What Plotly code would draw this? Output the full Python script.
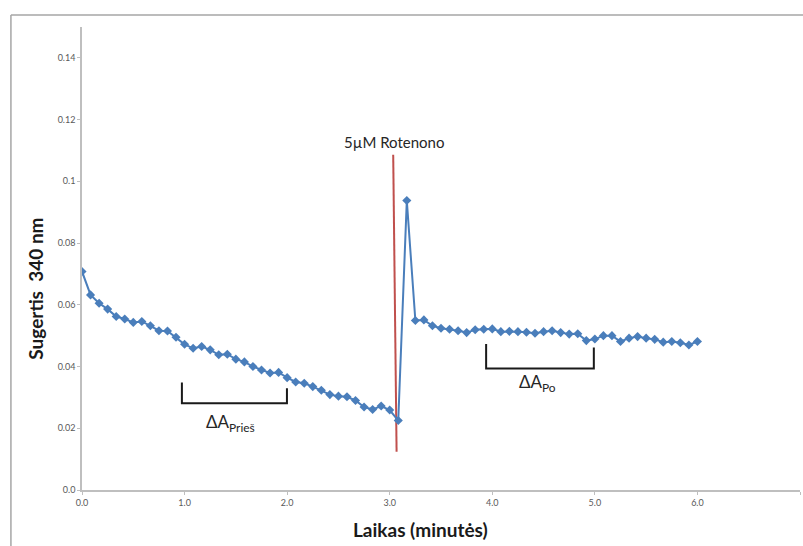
import plotly.graph_objects as go

# Sampling times (seconds) and absorbance readings at 340 nm
time_s = list(range(0, 365, 5))
absorbance = [
    0.0708, 0.0632, 0.0605, 0.0586, 0.0562, 0.0554, 0.0543, 0.0546, 0.0532, 0.0516,
    0.0515, 0.0495, 0.0472, 0.0459, 0.0465, 0.0454, 0.0438, 0.0440, 0.0424, 0.0415,
    0.0400, 0.0389, 0.0379, 0.0381, 0.0364, 0.0350, 0.0346, 0.0335, 0.0323, 0.0309,
    0.0304, 0.0302, 0.0290, 0.0269, 0.0261, 0.0272, 0.0259, 0.0225, 0.0938, 0.0549,
    0.0551, 0.0532, 0.0524, 0.0521, 0.0516, 0.0510, 0.0519, 0.0521, 0.0522, 0.0513,
    0.0514, 0.0513, 0.0511, 0.0508, 0.0513, 0.0516, 0.0510, 0.0505, 0.0506, 0.0484,
    0.0489, 0.0500, 0.0500, 0.0481, 0.0492, 0.0497, 0.0492, 0.0488, 0.0479, 0.0481,
    0.0477, 0.0470, 0.0481,
]
time_min = [t / 60 for t in time_s]

x_ticks = [0, 1, 2, 3, 4, 5, 6, 7]
x_tick_labels = ["0.0", "1.0", "2.0", "3.0", "4.0", "5.0", "6.0", "7.0"]
y_ticks = [0, 0.02, 0.04, 0.06, 0.08, 0.1, 0.12, 0.14]
y_tick_labels = ["0.0", "0.02", "0.04", "0.06", "0.08", "0.1", "0.12", "0.14"]

# Rotenone addition marker (slightly slanted hand-drawn line)
rot_x = [3.034, 3.067]
rot_y = [0.1086, 0.0124]

# Brackets marking the fitted intervals before / after rotenone
before_x = [0.974, 0.974, 1.998, 1.998]
before_y = [0.0348, 0.0281, 0.0281, 0.0330]
after_x = [3.94, 3.94, 4.99, 4.99]
after_y = [0.0473, 0.0394, 0.0394, 0.0462]

FONT = "Lato"
BLUE = "#4a7ebb"
RED = "#c0504d"
AXIS = "#bfbfbf"

fig = go.Figure()

fig.add_trace(go.Scatter(
    x=rot_x, y=rot_y, mode="lines",
    line=dict(color=RED, width=2), hoverinfo="skip", showlegend=False,
))
fig.add_trace(go.Scatter(
    x=time_min, y=absorbance, mode="lines+markers",
    line=dict(color=BLUE, width=2),
    marker=dict(symbol="diamond", size=7, color=BLUE),
    showlegend=False,
))
for bx, by in [(before_x, before_y), (after_x, after_y)]:
    fig.add_trace(go.Scatter(
        x=bx, y=by, mode="lines",
        line=dict(color="#1a1a1a", width=2), hoverinfo="skip", showlegend=False,
    ))

fig.add_annotation(x=3.05, y=0.1086, text="5µM Rotenono", showarrow=False,
                   yanchor="bottom", yshift=2,
                   font=dict(family=FONT, size=15, color="#262626"))
fig.add_annotation(x=1.445, y=0.0217, text="ΔA<sub>Prieš</sub>", showarrow=False,
                   font=dict(family=FONT, size=17, color="#262626"))
fig.add_annotation(x=4.44, y=0.0347, text="ΔA<sub>Po</sub>", showarrow=False,
                   font=dict(family=FONT, size=17, color="#262626"))

# Axis titles
fig.add_annotation(xref="paper", yref="paper", x=0.471, y=-0.086,
                   xanchor="center", yanchor="middle",
                   text="<b>Laikas (minutės)</b>", showarrow=False,
                   font=dict(family=FONT, size=19, color="#1a1a1a"))
fig.add_annotation(xref="paper", yref="paper", x=-0.066, y=0.434,
                   xanchor="center", yanchor="middle", textangle=-90,
                   text="<b>Sugertis  340 nm</b>", showarrow=False,
                   font=dict(family=FONT, size=19, color="#1a1a1a"))

# Outer chart frame
fig.add_shape(type="line", xref="paper", yref="paper", x0=-0.099, x1=1.02, y0=1.026, y1=1.026,
              line=dict(color="#a6a6a6", width=1.5))
fig.add_shape(type="line", xref="paper", yref="paper", x0=-0.099, x1=-0.099, y0=1.026, y1=-0.2,
              line=dict(color="#a6a6a6", width=1.5))

fig.update_layout(
    width=803, height=546,
    margin=dict(l=82, r=3, t=27, b=56),
    paper_bgcolor="white", plot_bgcolor="white",
    xaxis=dict(
        range=[0, 7], tickvals=x_ticks, ticktext=x_tick_labels,
        showgrid=False, zeroline=False, showline=True, linecolor=AXIS, linewidth=1.5,
        ticks="outside", ticklen=3, tickcolor=AXIS,
        tickfont=dict(family=FONT, size=9, color="#595959"),
    ),
    yaxis=dict(
        range=[0, 0.15], tickvals=y_ticks, ticktext=y_tick_labels,
        showgrid=False, zeroline=False, showline=True, linecolor=AXIS, linewidth=1.5,
        ticks="outside", ticklen=3, tickcolor=AXIS,
        tickfont=dict(family=FONT, size=9, color="#595959"),
    ),
)

fig.write_html("out.html")
